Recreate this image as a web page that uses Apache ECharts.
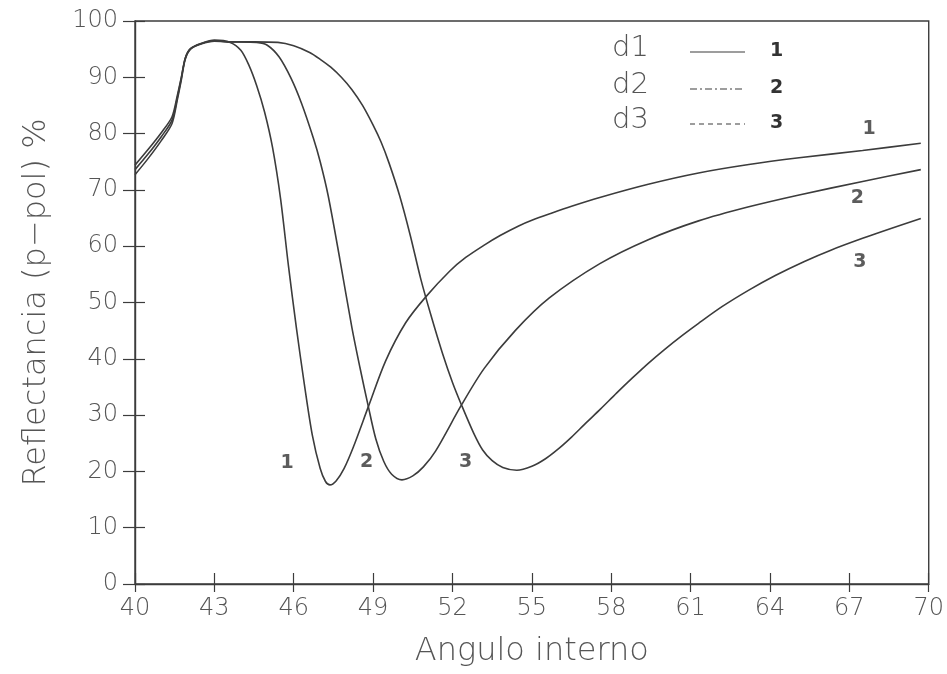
<!DOCTYPE html>
<html>
<head>
<meta charset="utf-8">
<script src="https://cdn.jsdelivr.net/npm/echarts@6/dist/echarts.min.js"></script>
<style>
  html, body { margin: 0; padding: 0; background: #fff; }
  #chart { width: 947px; height: 674px; }
</style>
</head>
<body>
<div id="chart"></div>
<script>
// Reflectance (p-pol) vs internal angle for three film thicknesses d1, d2, d3
const d1Angle = [40.0, 40.5, 41.0, 41.4, 41.6, 41.75, 41.9, 42.1, 42.5, 43.0, 43.6, 44.0, 44.3, 44.6, 44.9, 45.2, 45.5, 45.8, 46.1, 46.4, 46.7, 47.0, 47.2, 47.37, 47.6, 47.9, 48.25, 48.82, 49.47, 50.23, 50.99, 51.9, 52.5, 53.2, 53.8, 54.5, 55.0, 55.7, 56.5, 57.6, 59.4, 61.3, 63.2, 65.1, 67.5, 69.7];
const d1Refl  = [74.4, 77.2, 80.2, 83.0, 86.8, 90.0, 93.4, 95.1, 96.0, 96.6, 96.2, 94.8, 92.2, 88.5, 83.8, 77.5, 68.5, 56.5, 45.5, 35.5, 26.5, 20.5, 18.2, 17.6, 18.3, 20.5, 24.3, 31.5, 39.6, 46.4, 51.0, 55.6, 58.0, 60.2, 61.9, 63.6, 64.6, 65.8, 67.1, 68.7, 71.0, 73.0, 74.5, 75.7, 77.0, 78.3];

const d2Angle = [40.0, 40.5, 41.0, 41.4, 41.6, 41.75, 41.9, 42.1, 42.5, 43.0, 43.5, 44.0, 44.6, 45.0, 45.45, 45.9, 46.3, 46.74, 47.0, 47.3, 47.75, 48.2, 48.5, 48.82, 49.1, 49.4, 49.7, 50.09, 50.5, 50.9, 51.36, 52.34, 53.2, 54.37, 55.66, 57.57, 59.42, 61.3, 63.2, 65.1, 67.5, 69.7];
const d2Refl  = [73.6, 76.4, 79.5, 82.4, 86.4, 89.8, 93.4, 95.1, 96.0, 96.5, 96.3, 96.3, 96.2, 95.7, 93.6, 89.8, 85.3, 79.2, 75.0, 69.0, 57.5, 45.5, 38.5, 31.5, 25.8, 21.8, 19.5, 18.5, 19.2, 20.8, 23.6, 31.8, 38.3, 45.0, 50.8, 56.9, 61.2, 64.5, 67.0, 69.1, 71.5, 73.6];

const d3Angle = [40.0, 40.5, 41.0, 41.4, 41.6, 41.75, 41.9, 42.1, 42.5, 43.0, 43.5, 44.5, 45.4, 46.0, 46.6, 47.0, 47.4, 47.8, 48.2, 48.6, 49.0, 49.3, 49.6, 50.0, 50.4, 50.8, 51.2, 51.62, 52.0, 52.34, 52.8, 53.14, 53.5, 53.9, 54.43, 55.0, 55.5, 56.0, 56.5, 57.0, 57.6, 58.2, 58.8, 59.4, 60.0, 60.7, 61.3, 62.2, 63.2, 64.2, 65.3, 66.3, 67.5, 68.6, 69.7];
const d3Refl  = [72.7, 75.6, 78.8, 81.8, 86.0, 89.5, 93.2, 95.0, 95.9, 96.4, 96.3, 96.3, 96.2, 95.6, 94.4, 93.2, 91.8, 90.0, 87.8, 85.0, 81.5, 78.5, 74.8, 69.0, 62.0, 54.2, 47.5, 41.0, 35.8, 31.8, 26.8, 23.8, 21.9, 20.7, 20.2, 20.9, 22.2, 24.0, 26.1, 28.4, 31.1, 33.9, 36.6, 39.2, 41.6, 44.2, 46.3, 49.3, 52.2, 54.8, 57.3, 59.3, 61.4, 63.2, 64.9];

// Hand-written curve numbers: [angle, reflectance, text]
const curveTags = [
  [45.75, 21.5, '1'], [48.75, 21.7, '2'], [52.5, 21.7, '3'],
  [67.75, 80.8, '1'], [67.3, 68.6, '2'], [67.4, 57.2, '3']
];

const xTicks = [40, 70, 3];   // min, max, step
const yTicks = [0, 100, 10];

const pairs = (xs, ys) => xs.map((x, i) => [x, ys[i]]);

const labelFont = 'DejaVu Sans';
const inkText = '#555';
const inkLine = '#3c3c3c';

const chart = echarts.init(document.getElementById('chart'), null, { renderer: 'canvas' });

const curve = (name, xs, ys) => ({
  name, type: 'line', data: pairs(xs, ys), xAxisIndex: 0, yAxisIndex: 0,
  showSymbol: false, symbol: 'none', smooth: 0.3,
  lineStyle: { color: inkLine, width: 1.6 }, animation: false, z: 3
});

const legendRows = [
  { text: 'd1', tag: '1', dash: null, y: 50 },
  { text: 'd2', tag: '2', dash: [7, 3, 2, 3], y: 87 },
  { text: 'd3', tag: '3', dash: [5, 4], y: 122 }
];
const legendGraphics = [];
legendRows.forEach(r => {
  legendGraphics.push({ type: 'text', left: 612, top: r.y - 16,
    style: { text: r.text, font: '200 29px "DejaVu Sans"', fill: inkText } });
  legendGraphics.push({ type: 'line', shape: { x1: 690, y1: r.y + 2, x2: 745, y2: r.y + 2 },
    style: { stroke: inkLine, lineWidth: 1.2, lineDash: r.dash || null } });
  legendGraphics.push({ type: 'text', left: 770, top: r.y - 8,
    style: { text: r.tag, font: 'bold 19px "DejaVu Sans"', fill: '#333' } });
});

chart.setOption({
  animation: false,
  backgroundColor: '#fff',
  grid: { left: 135, right: 18, top: 21, bottom: 90, show: true, borderColor: inkLine, borderWidth: 1.4, containLabel: false },
  xAxis: [{
    type: 'value', min: xTicks[0], max: xTicks[1], interval: xTicks[2],
    name: 'Angulo interno', nameLocation: 'middle', nameGap: 52,
    nameTextStyle: { fontFamily: labelFont, fontWeight: 200, fontSize: 32, color: inkText },
    axisLine: { show: true, lineStyle: { color: inkLine, width: 1.4 } },
    axisTick: { show: true, inside: false, length: 8, lineStyle: { color: inkLine, width: 1.2 } },
    axisLabel: { margin: 13, fontFamily: labelFont, fontWeight: 200, fontSize: 24, color: inkText },
    splitLine: { show: false }
  }, {
    type: 'value', min: xTicks[0], max: xTicks[1], interval: xTicks[2], position: 'bottom',
    axisLine: { show: false },
    axisTick: { show: true, inside: true, length: 11, lineStyle: { color: inkLine, width: 1.2 } },
    axisLabel: { show: false }, splitLine: { show: false }
  }],
  yAxis: [{
    type: 'value', min: yTicks[0], max: yTicks[1], interval: yTicks[2],
    name: 'Reflectancia (p\u2212pol) %', nameLocation: 'middle', nameGap: 82,
    nameTextStyle: { fontFamily: labelFont, fontWeight: 200, fontSize: 32, color: inkText },
    axisLine: { show: true, lineStyle: { color: inkLine, width: 1.4 } },
    axisTick: { show: true, inside: false, length: 12, lineStyle: { color: inkLine, width: 1.2 } },
    axisLabel: { margin: 17, fontFamily: labelFont, fontWeight: 200, fontSize: 24, color: inkText },
    splitLine: { show: false }
  }, {
    type: 'value', min: yTicks[0], max: yTicks[1], interval: yTicks[2], position: 'left',
    axisLine: { show: false },
    axisTick: { show: true, inside: true, length: 10, lineStyle: { color: inkLine, width: 1.2 } },
    axisLabel: { show: false }, splitLine: { show: false }
  }],
  series: [
    curve('d1', d1Angle, d1Refl),
    curve('d2', d2Angle, d2Refl),
    curve('d3', d3Angle, d3Refl),
    {
      name: 'tags', type: 'scatter', data: curveTags.map(t => ({ value: [t[0], t[1]], tag: t[2] })),
      symbolSize: 0, silent: true, z: 4,
      label: { show: true, position: 'inside', formatter: p => p.data.tag,
        fontFamily: labelFont, fontWeight: 'bold', fontSize: 19, color: '#333' }
    }
  ],
  graphic: legendGraphics
});
</script>
</body>
</html>
